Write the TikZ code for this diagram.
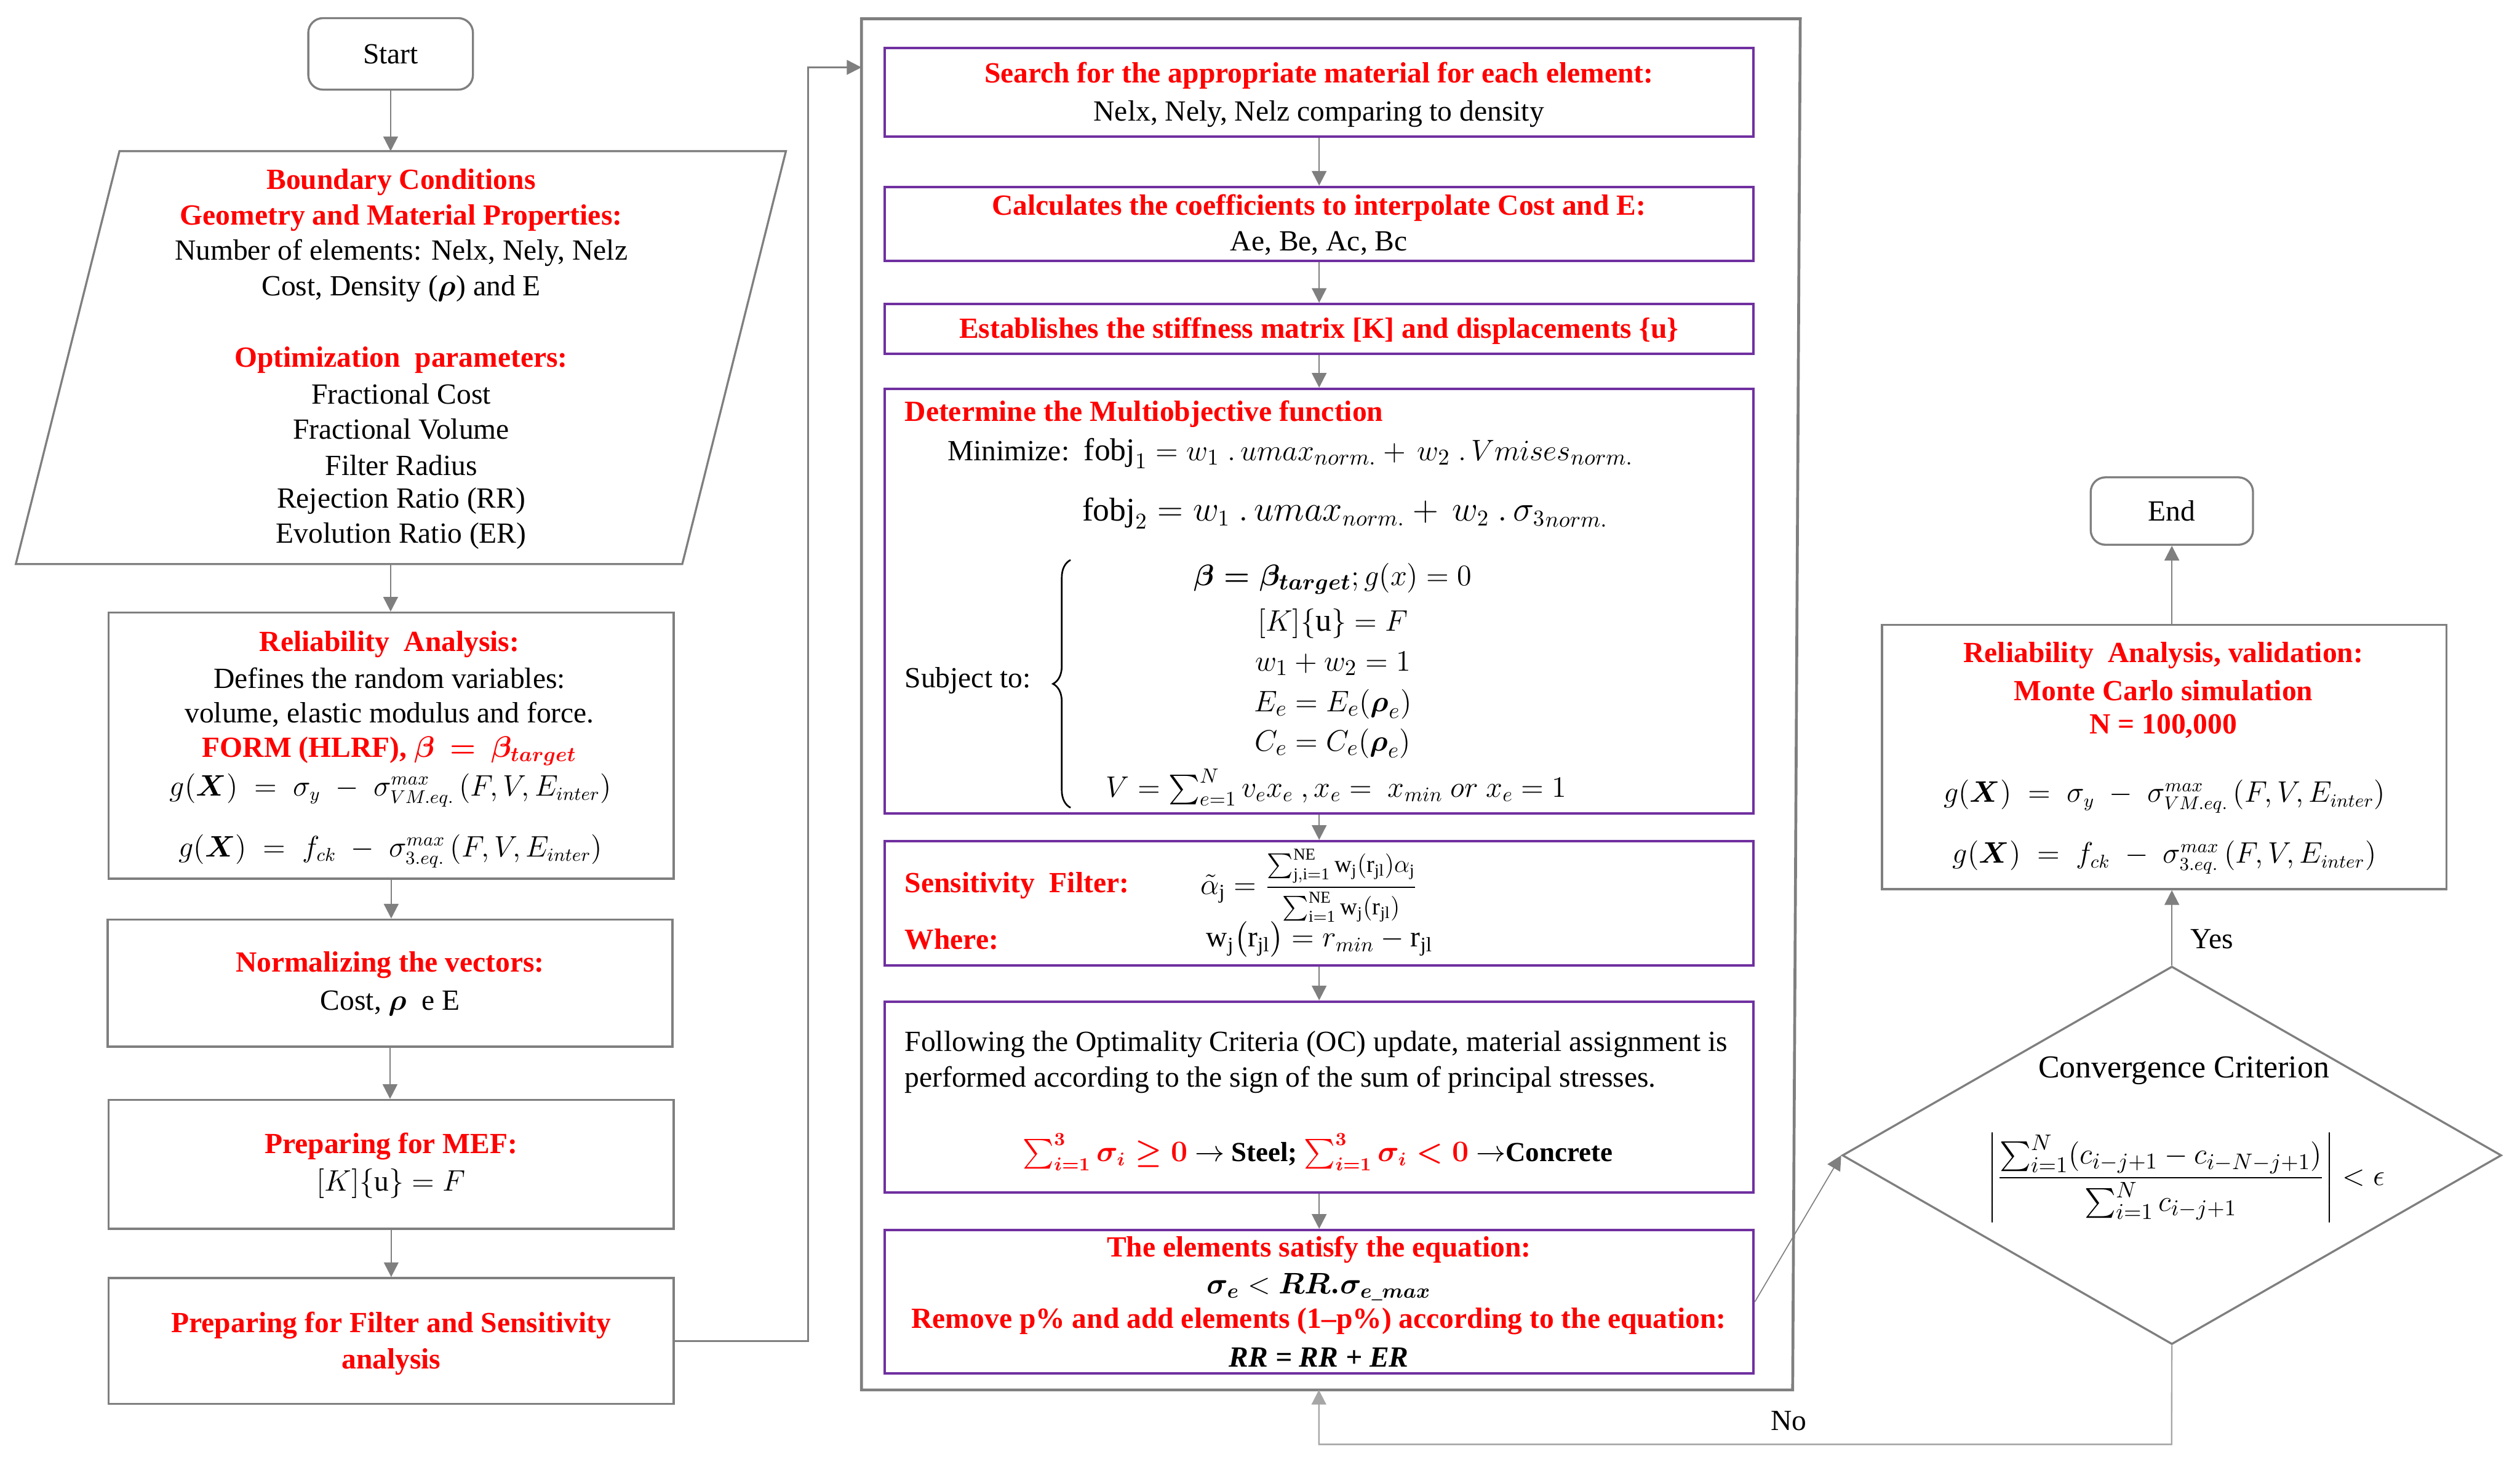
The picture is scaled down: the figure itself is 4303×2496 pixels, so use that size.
\documentclass[tikz,border=0pt]{standalone}
\usepackage{amsmath}
\usepackage{fontspec}
\setmainfont{Liberation Serif}
\usetikzlibrary{arrows.meta,shapes.geometric,decorations.pathreplacing,calc}
\definecolor{redt}{HTML}{FF0000}
\definecolor{purp}{HTML}{7030A0}
\definecolor{lgray}{HTML}{7F7F7F}
\definecolor{llgray}{HTML}{A6A6A6}
\newcommand{\myfs}{\fontsize{14.2pt}{17pt}\selectfont}
\newcommand{\mathfs}{\fontsize{15.6pt}{19pt}\selectfont}
\newcommand{\eqfs}{\fontsize{13.5pt}{16pt}\selectfont}
\tikzset{
 txtbase/.style={inner sep=0pt, outer sep=0pt, font=\myfs},
 tx/.style={txtbase},
 mx/.style={txtbase, font=\mathfs},
 eqx/.style={txtbase, font=\eqfs},
 redb/.style={txtbase, text=redt, font=\myfs\bfseries},
 gbox/.style={draw=lgray, line width=1pt, inner sep=0pt},
 pbox/.style={draw=purp, line width=1.15pt, inner sep=0pt, minimum width=14.83cm},
 term/.style={draw=lgray, line width=1pt, rounded corners=0.25cm, font=\myfs},
 arr/.style={draw=lgray, line width=0.7pt, -{Triangle[length=0.25cm,width=0.25cm]}},
}
\begin{document}
\begin{tikzpicture}[x=0.01cm,y=-0.01cm]
\useasboundingbox (0,0) rectangle (4303,2496);

% ---------------- left column ----------------
\node[term, minimum width=2.81cm, minimum height=1.22cm] (start) at (667,92) {Start};

\draw[draw=lgray, line width=1pt] (204,258) -- (1342,258) -- (1165,963) -- (27,963) -- cycle;
\coordinate (pTop) at (667,258);
\coordinate (pBot) at (667,963);
\node[redb] (p1) at (685,311) {Boundary Conditions};
\node[redb] (p2) at (685,372) {Geometry and Material Properties:};
\node[tx] (p3) at (685,432) {Number of elements: Nelx, Nely, Nelz};
\node[tx] (p4) at (685,493) {Cost, Density ($\boldsymbol{\rho}$) and E};
\node[redb] (p5) at (685,615) {Optimization\ \ parameters:};
\node[tx] (p6) at (685,673) {Fractional Cost};
\node[tx] (p7) at (685,733) {Fractional Volume};
\node[tx] (p8) at (685,794) {Filter Radius};
\node[tx] (p9) at (685,855) {Rejection Ratio (RR)};
\node[tx] (p10) at (685,915) {Evolution Ratio (ER)};

\node[gbox, minimum width=9.64cm, minimum height=4.54cm] (rel) at (668,1273) {};
\node[redb] (r1) at (665,1100) {Reliability\ \ Analysis:};
\node[tx] (r2) at (665,1158) {Defines the random variables:};
\node[tx] (r3) at (665,1220) {volume, elastic modulus and force.};
\node[redb] (r4) at (665,1282) {FORM (HLRF), {\boldmath$\beta \,=\, \beta_{target}$}};
\node[eqx] (r5) at (667,1349) {$g(\boldsymbol{X}) \;=\; \sigma_y \;-\; \sigma^{max}_{VM.eq.}\,(F,V,E_{inter})$};
\node[eqx] (r6) at (667,1453) {$g(\boldsymbol{X}) \;=\; f_{ck} \;-\; \sigma^{max}_{3.eq.}\,(F,V,E_{inter})$};

\node[gbox, minimum width=9.64cm, minimum height=2.17cm] (norm) at (666,1678.5) {};
\node[redb] (n1) at (666,1648) {Normalizing\ the vectors:};
\node[tx] (n2) at (666,1713) {Cost, $\boldsymbol{\rho}$\ \ e E};

\node[gbox, minimum width=9.64cm, minimum height=2.20cm] (mef) at (668,1988) {};
\node[redb] (m1) at (668,1957) {Preparing for MEF:};
\node[tx] (m2) at (668,2021) {$[K]\{\mathrm{u}\} = F$};

\node[gbox, minimum width=9.64cm, minimum height=2.15cm] (filt) at (668,2289.5) {};
\node[redb] (f1) at (668,2263) {Preparing for Filter and Sensitivity};
\node[redb] (f2) at (668,2325) {analysis};

\draw[arr] (start.south) -- (pTop);
\draw[arr] (pBot) -- (pBot |- rel.north);
\draw[arr] (rel.south) -- (rel.south |- norm.north);
\draw[arr] (norm.south) -- (norm.south |- mef.north);
\draw[arr] (mef.south) -- (mef.south |- filt.north);

% ---------------- middle frame ----------------
\draw[draw=lgray, line width=1.4pt] (1471,32) -- (3074,32) -- (3061,2373) -- (1471,2373) -- cycle;
\coordinate (frameIn) at (1471,115);
\coordinate (frameBot) at (2252,2373);
\draw[arr] (filt.east) -| (1380,115) -- (frameIn);

\node[pbox, minimum height=1.51cm] (b1) at (2252.5,157.5) {};
\node[redb] (b1a) at (2252,129) {Search for the appropriate material for each element:};
\node[tx] (b1b) at (2252,194) {Nelx, Nely, Nelz comparing to density};

\node[pbox, minimum height=1.26cm] (b2) at (2252.5,382) {};
\node[redb] (b2a) at (2252,355) {Calculates the coefficients to interpolate Cost and E:};
\node[tx] (b2b) at (2252,415) {Ae, Be, Ac, Bc};

\node[pbox, minimum height=0.85cm] (b3) at (2252.5,561.5) {};
\node[redb] (b3a) at (2252,565) {Establishes the stiffness matrix [K] and displacements \{u\}};

\node[pbox, minimum height=7.25cm] (b4) at (2252.5,1026.5) {};
\node[redb, anchor=west] (b4a) at (1545,707) {Determine the Multiobjective function};
\node[tx, anchor=west] (b4b) at (1618,774) {Minimize:\ \ {\fontsize{15.4pt}{19pt}\selectfont$\mathrm{fobj}_1 = w_1\ .\,umax_{norm.} + \,w_2\ .\,Vmises_{norm.}$}};
\node[txtbase, font=\fontsize{16pt}{19pt}\selectfont, anchor=west] (b4c) at (1848,876) {$\mathrm{fobj}_2 = w_1\ .\,umax_{norm.} + \,w_2\ .\,{\sigma_3}_{norm.}$};
\node[tx, anchor=west] (b4d) at (1545,1162) {Subject to:};
\draw[line width=0.8pt, decorate, decoration={brace, amplitude=0.3cm}] (1828,1379) -- (1828,956);
\node[mx] (c1) at (2276,988) {$\boldsymbol{\beta = \beta_{target}}; g(x) = 0$};
\node[mx] (c2) at (2276,1065) {$[K]\{\mathrm{u}\} = F$};
\node[mx] (c3) at (2276,1133) {$w_1 + w_2 = 1$};
\node[mx] (c4) at (2276,1202) {$E_e = E_e(\boldsymbol{\rho}_e)$};
\node[mx] (c5) at (2276,1269) {$C_e = C_e(\boldsymbol{\rho}_e)$};
\node[txtbase, font=\fontsize{14.8pt}{18pt}\selectfont] (c6) at (2282,1344) {$V = \sum_{e=1}^{N} v_e x_e\ , x_e =\ x_{min}\ or\ x_e = 1$};

\node[pbox, minimum height=2.12cm] (b5) at (2252.5,1542) {};
\node[redb, anchor=west] (b5a) at (1545,1512) {Sensitivity\ \ Filter:};
\node[redb, anchor=west] (b5b) at (1545,1604) {Where:};
\node[tx, anchor=west] (b5c) at (2050,1512) {$\tilde{\alpha}_{\mathrm{j}} = \dfrac{\mbox{\fontsize{11.5pt}{13pt}\selectfont$\sum_{\mathrm{j,i=1}}^{\mathrm{NE}} \mathrm{w_j(r_{jl})}\alpha_{\mathrm{j}}$}}{\mbox{\fontsize{11.5pt}{13pt}\selectfont$\sum_{\mathrm{i=1}}^{\mathrm{NE}} \mathrm{w_j(r_{jl})}$}}$};
\node[tx, anchor=west] (b5d) at (2060,1604) {$\mathrm{w_j}\bigl(\mathrm{r_{jl}}\bigr) = r_{min} - \mathrm{r_{jl}}$};

\node[pbox, minimum height=3.26cm] (b6) at (2252.5,1873) {};
\node[tx, anchor=west] (b6a) at (1545,1783) {Following the Optimality Criteria (OC) update, material assignment is};
\node[tx, anchor=west] (b6b) at (1545,1844) {performed according to the sign of the sum of principal stresses.};
\node[txtbase, font=\fontsize{13.4pt}{16pt}\selectfont] (b6c) at (2250,1967) {{\color{redt}\boldmath$\sum_{i=1}^{3}\sigma_i \geq 0$} \textbf{$\rightarrow$ Steel;} {\color{redt}\boldmath$\sum_{i=1}^{3}\sigma_i < 0$} \textbf{$\rightarrow$Concrete}};

\node[pbox, minimum height=2.45cm] (b7) at (2252.5,2222.5) {};
\node[redb] (b7a) at (2252,2134) {The elements satisfy the equation:};
\node[tx] (b7b) at (2252,2197) {$\boldsymbol{\sigma_e} < \boldsymbol{RR.\sigma_{e\_max}}$};
\node[redb] (b7c) at (2252,2256) {Remove p\% and add elements (1--p\%) according to the equation:};
\node[tx] (b7d) at (2252,2317) {\bfseries\itshape RR = RR + ER};

\draw[arr] (b1.south) -- (b2.north);
\draw[arr] (b2.south) -- (b3.north);
\draw[arr] (b3.south) -- (b4.north);
\draw[arr] (b4.south) -- (b5.north);
\draw[arr] (b5.south) -- (b6.north);
\draw[arr] (b6.south) -- (b7.north);

% ---------------- right column ----------------
\node[term, minimum width=2.77cm, minimum height=1.15cm] (end) at (3708.5,872.5) {End};

\node[gbox, minimum width=9.63cm, minimum height=4.51cm] (val) at (3695.5,1292.5) {};
\node[redb] (v1) at (3694,1119) {Reliability\ \ Analysis,\ validation:};
\node[redb] (v2) at (3694,1179) {Monte Carlo simulation};
\node[redb] (v3) at (3694,1240) {N = 100,000};
\node[eqx] (v4) at (3696,1360) {$g(\boldsymbol{X}) \;=\; \sigma_y \;-\; \sigma^{max}_{VM.eq.}\,(F,V,E_{inter})$};
\node[eqx] (v5) at (3696,1464) {$g(\boldsymbol{X}) \;=\; f_{ck} \;-\; \sigma^{max}_{3.eq.}\,(F,V,E_{inter})$};

\node[draw=lgray, line width=1pt, diamond, minimum width=11.25cm, minimum height=6.45cm, inner sep=0pt] (dia) at (3708.5,1972.5) {};
\node[txtbase, font=\fontsize{15.5pt}{18pt}\selectfont] (d1) at (3729,1828) {Convergence Criterion};
\node[txtbase, font=\fontsize{15.3pt}{18pt}\selectfont] (d2) at (3733,2011) {$\left|\dfrac{\sum_{i=1}^{N}(c_{i-j+1} - c_{i-N-j+1})}{\sum_{i=1}^{N} c_{i-j+1}}\right| < \epsilon$};

\draw[arr] (end.south |- val.north) -- (end.south);
\draw[arr] (dia.north) -- (dia.north |- val.south);
\node[tx] (yes) at (3777,1603) {Yes};
\draw[arr, line width=0.5pt] (b7.east) -- (dia.west);
\draw[arr, draw=llgray] (dia.south) -- (3708,2466) -| (frameBot);
\node[tx] (no) at (3054,2426) {No};
\end{tikzpicture}
\end{document}
